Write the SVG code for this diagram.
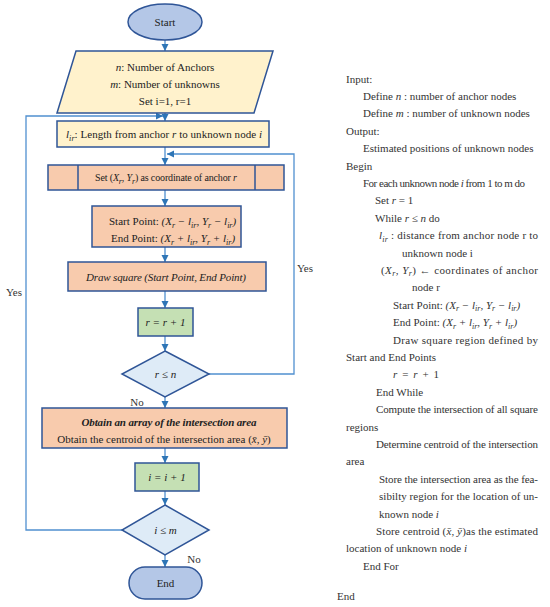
<svg xmlns="http://www.w3.org/2000/svg" width="550" height="607" viewBox="0 0 550 607">
<defs>
<marker id="ar" markerUnits="userSpaceOnUse" markerWidth="8" markerHeight="8" refX="7" refY="4" orient="auto">
<path d="M0,0.5 L7,4 L0,7.5 z" fill="#2e75b6"/>
</marker>
<style>
.nd{stroke:#2f5597;stroke-width:1.5}
.cn{fill:none;stroke:#5090d0;stroke-width:1.3}
.ft{font-family:"Liberation Serif",serif;font-size:11px;fill:#222}
.rt{font-family:"Liberation Serif",serif;font-size:11px;fill:#333}
.c{text-anchor:middle}
.i{font-style:italic}
.sb{font-size:8px}
.lb{font-family:"Liberation Serif",serif;font-size:11px;fill:#333}
</style>
</defs>
<rect width="550" height="607" fill="#ffffff"/>

<g id="connectors">
<line class="cn" x1="165" y1="40" x2="165" y2="51" marker-end="url(#ar)"/>
<line class="cn" x1="165" y1="113" x2="165" y2="121" marker-end="url(#ar)"/>
<line class="cn" x1="165" y1="147" x2="165" y2="165" marker-end="url(#ar)"/>
<line class="cn" x1="165" y1="190" x2="165" y2="206" marker-end="url(#ar)"/>
<line class="cn" x1="165" y1="247" x2="165" y2="262" marker-end="url(#ar)"/>
<line class="cn" x1="165" y1="291" x2="165" y2="308" marker-end="url(#ar)"/>
<line class="cn" x1="165" y1="336" x2="165" y2="351" marker-end="url(#ar)"/>
<line class="cn" x1="165" y1="397" x2="165" y2="408" marker-end="url(#ar)"/>
<line class="cn" x1="165" y1="448" x2="165" y2="463" marker-end="url(#ar)"/>
<line class="cn" x1="165" y1="491" x2="165" y2="505" marker-end="url(#ar)"/>
<line class="cn" x1="165" y1="555" x2="165" y2="567" marker-end="url(#ar)"/>
<polyline class="cn" points="209,374 294,374 294,154 167,154" marker-end="url(#ar)"/>
<polyline class="cn" points="122,530 26,530 26,116 163,116" marker-end="url(#ar)"/>
<text class="lb c" x="305" y="272">Yes</text>
<text class="lb c" x="14" y="296">Yes</text>
<text class="lb c" x="137" y="406">No</text>
<text class="lb c" x="194" y="563">No</text>
</g>

<g id="start">
<ellipse class="nd" cx="165" cy="22" rx="37" ry="18" fill="#b4c7e7"/>
<text class="ft c" x="165" y="26" fill="#1f3864">Start</text>
</g>

<g id="input">
<polygon class="nd" points="76,51 273,51 254,113 57,113" fill="#fff2cc"/>
<text class="ft c" x="165" y="71"><tspan class="i">n</tspan>: Number of Anchors</text>
<text class="ft c" x="165" y="88"><tspan class="i">m</tspan>: Number of unknowns</text>
<text class="ft c" x="165" y="105">Set i=1, r=1</text>
</g>

<g id="length">
<rect class="nd" x="57" y="121" width="212" height="26" fill="#fff2cc"/>
<text class="ft c" x="164" y="138" textLength="196" lengthAdjust="spacing"><tspan class="i">l</tspan><tspan class="sb i" dy="2.5">ir</tspan><tspan dy="-2.5">: Length from anchor </tspan><tspan class="i">r</tspan> to unknown node <tspan class="i">i</tspan></text>
</g>

<g id="setcoord">
<rect class="nd" x="48" y="165" width="236" height="25" fill="#f8cbad"/>
<line class="nd" x1="78" y1="165" x2="78" y2="190"/>
<line class="nd" x1="255" y1="165" x2="255" y2="190"/>
<text class="ft c" x="166" y="181" style="font-size:10px" textLength="142" lengthAdjust="spacing">Set (<tspan class="i">X</tspan><tspan class="sb i" dy="2.5">r</tspan><tspan dy="-2.5">, </tspan><tspan class="i">Y</tspan><tspan class="sb i" dy="2.5">r</tspan><tspan dy="-2.5">) as coordinate of anchor </tspan><tspan class="i">r</tspan></text>
</g>

<g id="points">
<rect class="nd" x="92" y="206" width="149" height="41" fill="#f8cbad"/>
<text class="ft" x="109" y="225">Start Point:  <tspan class="i">(X</tspan><tspan class="sb i" dy="2.5">r</tspan><tspan class="i" dy="-2.5"> − l</tspan><tspan class="sb i" dy="2.5">ir</tspan><tspan class="i" dy="-2.5">, Y</tspan><tspan class="sb i" dy="2.5">r</tspan><tspan class="i" dy="-2.5"> − l</tspan><tspan class="sb i" dy="2.5">ir</tspan><tspan class="i" dy="-2.5">)</tspan></text>
<text class="ft" x="111" y="242">End Point:  <tspan class="i">(X</tspan><tspan class="sb i" dy="2.5">r</tspan><tspan class="i" dy="-2.5"> + l</tspan><tspan class="sb i" dy="2.5">ir</tspan><tspan class="i" dy="-2.5">, Y</tspan><tspan class="sb i" dy="2.5">r</tspan><tspan class="i" dy="-2.5"> + l</tspan><tspan class="sb i" dy="2.5">ir</tspan><tspan class="i" dy="-2.5">)</tspan></text>
</g>

<g id="draw">
<rect class="nd" x="68" y="262" width="198" height="29" fill="#f8cbad"/>
<text class="ft c i" x="166" y="281" textLength="160" lengthAdjust="spacing">Draw square (Start Point, End Point)</text>
</g>

<g id="rinc">
<rect class="nd" x="138" y="308" width="55" height="28" fill="#c5e0b4"/>
<text class="ft c i" x="165.5" y="326">r = r + 1</text>
</g>

<g id="rcheck">
<polygon class="nd" points="165,351 209,374 165,397 122,374" fill="#deebf7"/>
<text class="ft c i" x="165.5" y="378">r ≤ n</text>
</g>

<g id="obtain">
<rect class="nd" x="42" y="408" width="245" height="40" fill="#f8cbad"/>
<text class="ft c i" x="169" y="426" style="font-weight:bold" textLength="175" lengthAdjust="spacing">Obtain an array of the intersection area</text>
<text class="ft c" x="164" y="443">Obtain the centroid of the intersection area  (<tspan class="i">x̄</tspan>, <tspan class="i">ȳ</tspan>)</text>
</g>

<g id="iinc">
<rect class="nd" x="135" y="463" width="64" height="28" fill="#c5e0b4"/>
<text class="ft c i" x="167" y="481">i = i + 1</text>
</g>

<g id="icheck">
<polygon class="nd" points="165,505 209,530 165,555 122,530" fill="#deebf7"/>
<text class="ft c i" x="165.5" y="534">i ≤ m</text>
</g>

<g id="end">
<rect class="nd" x="129" y="567" width="73" height="32" rx="16" ry="16" fill="#b4c7e7"/>
<text class="ft c" x="165.5" y="587" fill="#1f3864">End</text>
</g>

<g id="pseudocode">
<text class="rt" x="346" y="82.5">Input:</text>
<text class="rt" x="363" y="99.9">Define <tspan class="i">n</tspan> : number of anchor nodes</text>
<text class="rt" x="363" y="117.3">Define <tspan class="i">m</tspan> : number of unknown nodes</text>
<text class="rt" x="346" y="134.7">Output:</text>
<text class="rt" x="363" y="152.1">Estimated positions of unknown nodes</text>
<text class="rt" x="346" y="169.5">Begin</text>
<text class="rt" x="363" y="186.9" textLength="162" lengthAdjust="spacing">For each unknown node <tspan class="i">i</tspan> from 1 to m do</text>
<text class="rt" x="375" y="204.3">Set <tspan class="i">r</tspan> = 1</text>
<text class="rt" x="375" y="221.7">While <tspan class="i">r</tspan> ≤ <tspan class="i">n</tspan> do</text>
<text class="rt" x="379" y="239.1" textLength="159" lengthAdjust="spacing"><tspan class="i">l</tspan><tspan class="sb i" dy="2.5">ir</tspan><tspan dy="-2.5"> : distance from anchor node r to</tspan></text>
<text class="rt" x="402" y="256.5">unknown node i</text>
<text class="rt" x="381" y="273.9" textLength="157" lengthAdjust="spacing">(<tspan class="i">X</tspan><tspan class="sb i" dy="2.5">r</tspan><tspan dy="-2.5">, </tspan><tspan class="i">Y</tspan><tspan class="sb i" dy="2.5">r</tspan><tspan dy="-2.5">) ← coordinates of anchor</tspan></text>
<text class="rt" x="412" y="291.3">node r</text>
<text class="rt" x="393" y="308.7">Start Point:  <tspan class="i">(X</tspan><tspan class="sb i" dy="2.5">r</tspan><tspan class="i" dy="-2.5"> − l</tspan><tspan class="sb i" dy="2.5">ir</tspan><tspan class="i" dy="-2.5">, Y</tspan><tspan class="sb i" dy="2.5">r</tspan><tspan class="i" dy="-2.5"> − l</tspan><tspan class="sb i" dy="2.5">ir</tspan><tspan class="i" dy="-2.5">)</tspan></text>
<text class="rt" x="393" y="326.1">End Point:  <tspan class="i">(X</tspan><tspan class="sb i" dy="2.5">r</tspan><tspan class="i" dy="-2.5"> + l</tspan><tspan class="sb i" dy="2.5">ir</tspan><tspan class="i" dy="-2.5">, Y</tspan><tspan class="sb i" dy="2.5">r</tspan><tspan class="i" dy="-2.5"> + l</tspan><tspan class="sb i" dy="2.5">ir</tspan><tspan class="i" dy="-2.5">)</tspan></text>
<text class="rt" x="393" y="343.5" textLength="145" lengthAdjust="spacing">Draw square region defined by</text>
<text class="rt" x="346" y="360.9">Start and End Points</text>
<text class="rt" x="393" y="378.3" textLength="46" lengthAdjust="spacing"><tspan class="i">r</tspan> = <tspan class="i">r</tspan> + 1</text>
<text class="rt" x="376" y="395.7">End While</text>
<text class="rt" x="376" y="413.1" textLength="162" lengthAdjust="spacing">Compute the intersection of all square</text>
<text class="rt" x="346" y="430.5">regions</text>
<text class="rt" x="376" y="447.9" textLength="162" lengthAdjust="spacing">Determine centroid of the intersection</text>
<text class="rt" x="346" y="465.3">area</text>
<text class="rt" x="379" y="482.7" textLength="159" lengthAdjust="spacing">Store the intersection area as the fea-</text>
<text class="rt" x="379" y="500.1" textLength="159" lengthAdjust="spacing">sibilty region for the location of un-</text>
<text class="rt" x="379" y="517.5">known node <tspan class="i">i</tspan></text>
<text class="rt" x="376" y="534.9" textLength="162" lengthAdjust="spacing">Store centroid (<tspan class="i">x̄</tspan>, <tspan class="i">ȳ</tspan>)as the estimated</text>
<text class="rt" x="346" y="552.3">location of unknown node <tspan class="i">i</tspan></text>
<text class="rt" x="363" y="569.7">End For</text>
<text class="rt" x="337" y="600">End</text>
</g>
</svg>
